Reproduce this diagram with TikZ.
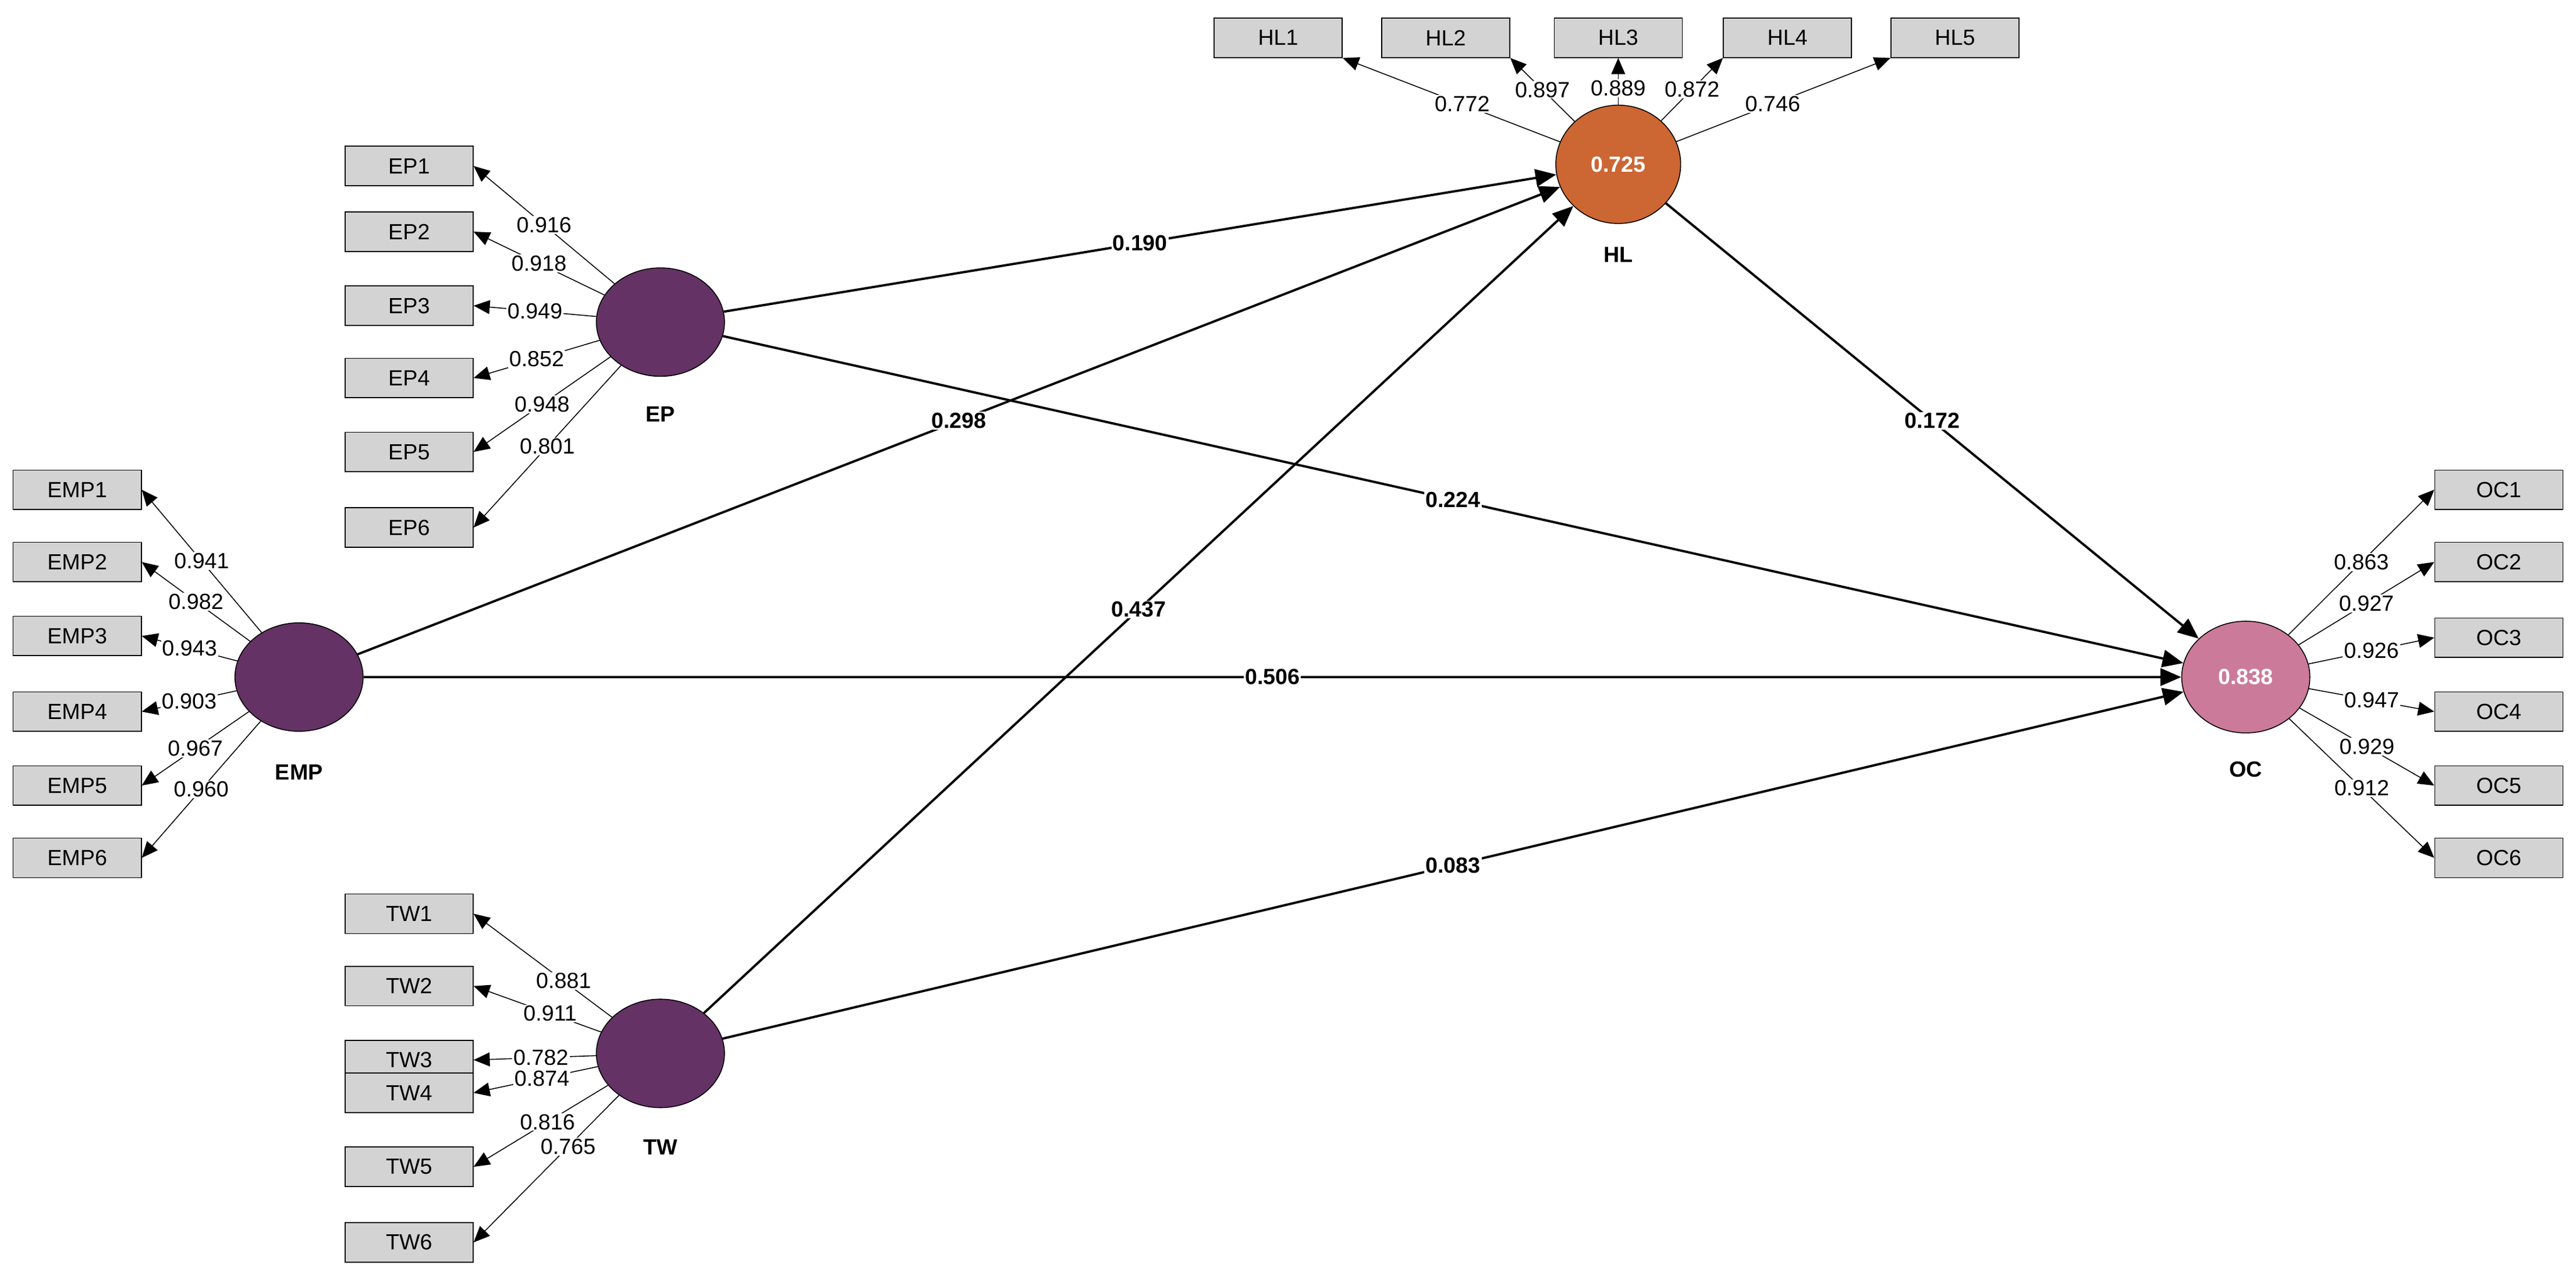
\documentclass[tikz,border=0pt]{standalone}
\usepackage{fontspec}
\setmainfont{Liberation Sans}
\usetikzlibrary{arrows.meta,shapes.geometric}
\definecolor{lat}{HTML}{643264}
\definecolor{hlc}{HTML}{CC6633}
\definecolor{occ}{HTML}{CC7A99}
\definecolor{ind}{HTML}{D3D3D3}
\begin{document}
\begin{tikzpicture}[x=0.05cm,y=-0.05cm,
  font=\fontsize{19}{22}\selectfont,
  ind/.style={draw,fill=ind,minimum width=3.9cm,minimum height=1.2cm,inner sep=0pt,line width=0.8pt},
  latent/.style={draw,ellipse,fill=lat,minimum width=3.9cm,minimum height=3.3cm,inner sep=0pt,line width=0.8pt,text=white,font=\fontsize{19}{22}\selectfont\bfseries},
  ld/.style={-{Triangle[length=14pt,width=12pt]},line width=0.8pt},
  pth/.style={-{Triangle[length=18pt,width=15pt]},line width=2pt},
  lbl/.style={fill=white,inner sep=1pt},
  plbl/.style={fill=white,inner sep=1pt,font=\fontsize{19}{22}\selectfont\bfseries},
  nm/.style={font=\fontsize{19}{22}\selectfont\bfseries}]
\useasboundingbox (0,0) rectangle (1568,780);
\node[latent] (EP) at (402,196) {};
\node[latent] (EMP) at (182,412) {};
\node[latent] (TW) at (402,641) {};
\node[latent,fill=hlc,minimum width=3.8cm,minimum height=3.6cm] (HL) at (985,100) {0.725};
\node[latent,fill=occ,minimum height=3.4cm] (OC) at (1367,412) {0.838};
\node[nm] at (402,252) {EP};
\node[nm] at (182,470) {EMP};
\node[nm] at (402,698) {TW};
\node[nm] at (985,155) {HL};
\node[nm] at (1367,468) {OC};
% EP indicators
\foreach \i/\y/\v in {1/101/0.916,2/141/0.918,3/186/0.949,4/230/0.852,5/275/0.948,6/321/0.801}{
  \node[ind] (EP\i) at (249,\y) {EP\i};
  \draw[ld] (EP) -- (EP\i.east) node[lbl,pos=0.5] {\v};}
\foreach \i/\y/\v in {1/298/0.941,2/342/0.982,3/387/0.943,4/433/0.903,5/478/0.967,6/522/0.960}{
  \node[ind] (EMP\i) at (47,\y) {EMP\i};
  \draw[ld] (EMP) -- (EMP\i.east) node[lbl,pos=0.5] {\v};}
\foreach \i/\y/\v in {1/556/0.881,2/600/0.911,3/645/0.782,4/665/0.874,5/710/0.816,6/756/0.765}{
  \node[ind] (TW\i) at (249,\y) {TW\i};}
\foreach \i/\v/\p in {1/0.881/0.35,2/0.911/0.4,3/0.782/0.45,4/0.874/0.45,5/0.816/0.45,6/0.765/0.35}{
  \draw[ld] (TW) -- (TW\i.east) node[lbl,pos=\p] {\v};}
\foreach \i/\y/\v in {1/298/0.863,2/342/0.927,3/388/0.926,4/433/0.947,5/478/0.929,6/522/0.912}{
  \node[ind] (OC\i) at (1521,\y) {OC\i};
  \draw[ld] (OC) -- (OC\i.west) node[lbl,pos=0.5] {\v};}
\foreach \i/\x/\v in {1/778/0.772,2/880/0.897,3/985/0.889,4/1088/0.872,5/1190/0.746}{
  \node[ind] (HL\i) at (\x,23) {HL\i};}
\draw[ld] (HL) -- (HL1.south east) node[lbl,pos=0.45] {0.772};
\draw[ld] (HL) -- (HL2.south east) node[lbl,pos=0.5] {0.897};
\draw[ld] (HL) -- (HL3.south) node[lbl,pos=0.35] {0.889};
\draw[ld] (HL) -- (HL4.south west) node[lbl,pos=0.5] {0.872};
\draw[ld] (HL) -- (HL5.south west) node[lbl,pos=0.45] {0.746};
% paths
\draw[pth] (EP) -- (HL) node[plbl,pos=0.5] {0.190};
\draw[pth] (EMP) -- (HL) node[plbl,pos=0.5] {0.298};
\draw[pth] (TW) -- (HL) node[plbl,pos=0.5] {0.437};
\draw[pth] (EP) -- (OC) node[plbl,pos=0.5] {0.224};
\draw[pth] (EMP) -- (OC) node[plbl,pos=0.5] {0.506};
\draw[pth] (TW) -- (OC) node[plbl,pos=0.5] {0.083};
\draw[pth] (HL) -- (OC) node[plbl,pos=0.5] {0.172};
\end{tikzpicture}
\end{document}
